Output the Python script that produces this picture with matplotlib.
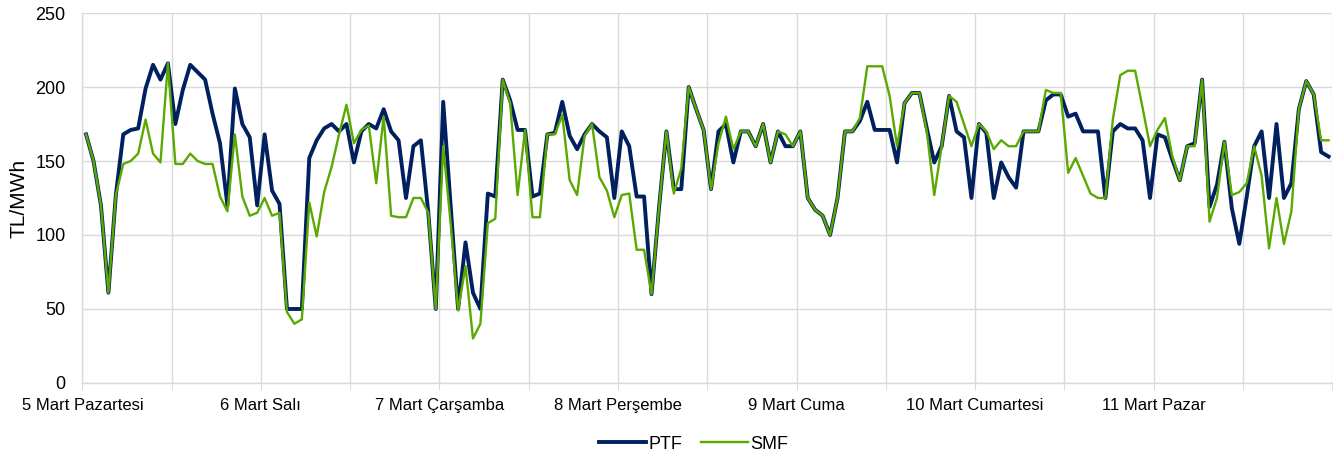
import matplotlib
matplotlib.use('Agg')
import matplotlib.pyplot as plt
import numpy as np

plt.rcParams['font.family'] = ['Liberation Sans', 'DejaVu Sans']

# Saatlik fiyatlar (TL/MWh), 5-11 Mart, her gün 24 saat
ptf_days = [
    [168, 150, 120, 61, 127, 168, 171, 172, 199, 215, 205, 216, 175, 198, 215, 210, 205, 182, 162, 120, 199, 175, 166, 120],
    [168, 130, 121, 50, 50, 50, 152, 164, 172, 175, 170, 175, 149, 170, 175, 172, 185, 170, 164, 125, 160, 164, 115, 50],
    [190, 120, 50, 95, 61, 50, 128, 126, 205, 191, 171, 171, 126, 128, 168, 169, 190, 167, 158, 168, 175, 170, 166, 125],
    [170, 160, 126, 126, 60, 118, 170, 131, 131, 200, 185, 171, 131, 170, 175, 149, 170, 170, 160, 175, 149, 170, 160, 160],
    [170, 125, 117, 113, 100, 125, 170, 170, 177, 190, 171, 171, 171, 149, 189, 196, 196, 172, 149, 160, 194, 170, 166, 125],
    [175, 169, 125, 149, 139, 132, 170, 170, 170, 191, 195, 195, 180, 182, 170, 170, 170, 125, 170, 175, 172, 172, 164, 125],
    [168, 166, 151, 137, 160, 162, 205, 119, 134, 163, 118, 94, 126, 160, 170, 125, 175, 125, 135, 185, 204, 195, 156, 153],
]
smf_days = [
    [168, 150, 120, 61, 127, 148, 150, 155, 178, 155, 149, 216, 148, 148, 155, 150, 148, 148, 126, 116, 168, 126, 113, 115],
    [125, 113, 115, 48, 40, 43, 122, 99, 129, 146, 168, 188, 162, 171, 174, 135, 180, 113, 112, 112, 125, 125, 115, 50],
    [160, 108, 49, 79, 30, 40, 108, 111, 205, 189, 127, 171, 112, 112, 168, 168, 181, 137, 127, 167, 175, 139, 130, 112],
    [127, 128, 90, 90, 60, 118, 170, 128, 145, 200, 185, 171, 131, 162, 180, 158, 170, 170, 160, 175, 149, 170, 168, 160],
    [170, 125, 117, 113, 100, 125, 170, 170, 179, 214, 214, 214, 194, 160, 189, 196, 196, 170, 127, 160, 194, 190, 175, 160],
    [175, 170, 158, 164, 160, 160, 170, 170, 170, 198, 196, 196, 142, 152, 140, 128, 125, 125, 178, 208, 211, 211, 186, 160],
    [171, 179, 153, 137, 160, 160, 205, 109, 125, 163, 127, 129, 135, 160, 140, 91, 125, 94, 116, 185, 204, 195, 164, 164],
]
day_labels = ['5 Mart Pazartesi', '6 Mart Salı', '7 Mart Çarşamba', '8 Mart Perşembe',
              '9 Mart Cuma', '10 Mart Cumartesi', '11 Mart Pazar']

ptf = np.concatenate(ptf_days)
smf = np.concatenate(smf_days)
n = len(ptf)
x = np.arange(n) + 0.5

fig = plt.figure(figsize=(13.39, 4.57), dpi=100)
ax = fig.add_axes([0.0615, 0.162, 0.9335, 0.8095])

grid_c = '#D9D9D9'
ax.plot(x, ptf, color='#002060', linewidth=2.8, label='PTF', zorder=3)
ax.plot(x, smf, color='#5BA800', linewidth=1.7, label='SMF', zorder=4)

ax.set_xlim(0, n)
ax.set_ylim(0, 250)
ax.set_yticks(range(0, 251, 50))
ax.set_xticks(range(0, n, 24))
ax.set_xticklabels(day_labels)
ax.set_xticks(range(12, n + 1, 12), minor=True)

ax.grid(True, axis='y', color=grid_c, linewidth=1)
ax.grid(True, axis='x', which='both', color=grid_c, linewidth=1)
ax.set_axisbelow(True)

for s in ['top', 'right']:
    ax.spines[s].set_visible(False)
ax.spines['left'].set_color(grid_c)
ax.spines['bottom'].set_color(grid_c)
ax.spines['left'].set_linewidth(1)
ax.spines['bottom'].set_linewidth(1)

ax.tick_params(axis='y', length=0, labelsize=13, pad=12)
ax.tick_params(axis='x', which='both', length=5, color=grid_c, labelsize=12, pad=6)
ax.set_ylabel('TL/MWh', fontsize=15, labelpad=5)

fig.legend(loc='center', bbox_to_anchor=(0.518, 0.028), ncol=2, frameon=False,
           fontsize=13, handlelength=2.6, columnspacing=1.0, handletextpad=0.15)

plt.savefig('out.png', dpi=100)
